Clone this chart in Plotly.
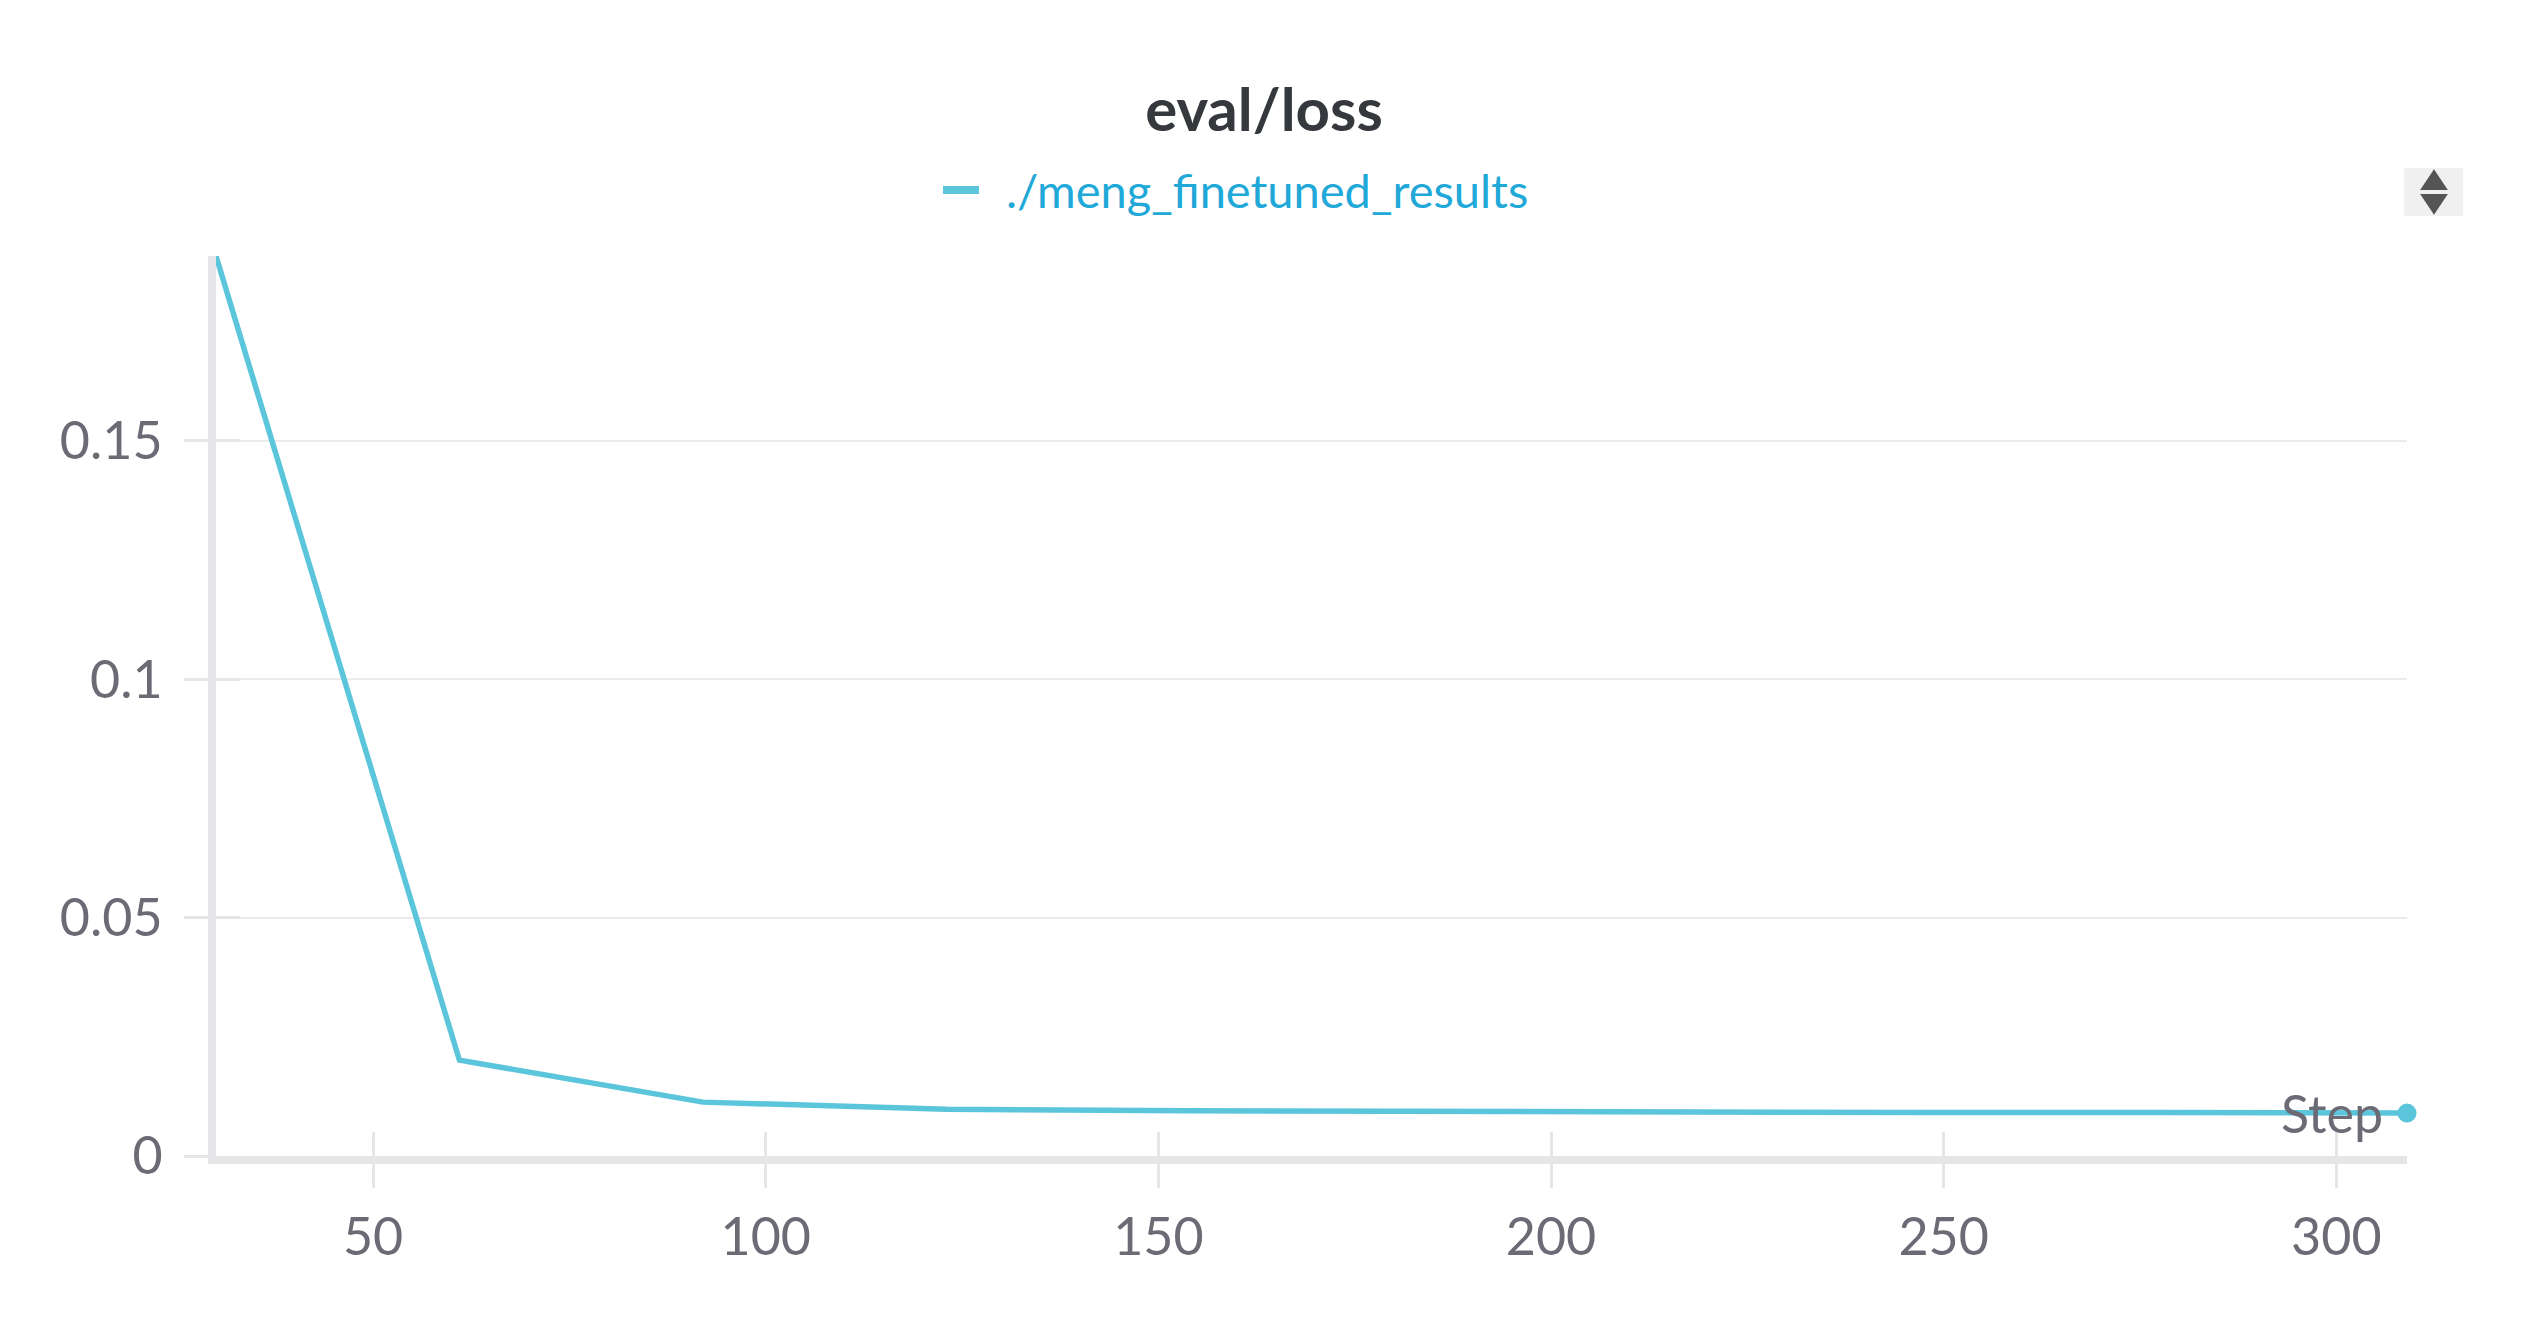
import plotly.graph_objects as go

steps = [30, 61, 92, 123, 154, 185, 216, 247, 278, 309]
loss = [0.1888, 0.0201, 0.0113, 0.0098, 0.0095, 0.0093, 0.0092, 0.0091, 0.0091, 0.0090]
series_name = "./meng_finetuned_results"
chart_title = "eval/loss"
x_title = "Step"
y_tickvals = [0, 0.05, 0.1, 0.15]
y_ticktext = ["0", "0.05", "0.1", "0.15"]
x_tickvals = [50, 100, 150, 200, 250, 300]

W, H = 2528, 1328
ML, MR, MT, MB = 216, 121, 256, 172
PW, PH = W - ML - MR, H - MT - MB

LINE = "#5bc5db"
AXIS = "#e6e6e9"
GRID = "#ebebeb"
TICKTXT = "#6b6b76"
FONT = "Lato, 'Open Sans', sans-serif"


def px(x):
    return (x - ML) / PW


def py(y):
    return (H - MB - y) / PH


fig = go.Figure()
fig.add_trace(go.Scatter(
    x=steps, y=loss, mode="lines", name=series_name,
    line=dict(color=LINE, width=5.5), showlegend=False,
))
fig.add_trace(go.Scatter(
    x=[steps[-1]], y=[loss[-1]], mode="markers",
    marker=dict(color=LINE, size=19), cliponaxis=False, showlegend=False,
    hoverinfo="skip",
))
# invisible trace to materialise the overlay axes (inner tick halves)
fig.add_trace(go.Scatter(
    x=[steps[0], steps[-1]], y=[0, max(loss)], xaxis="x2", yaxis="y2",
    mode="markers", marker=dict(opacity=0), showlegend=False, hoverinfo="skip",
))

fig.update_layout(
    width=W, height=H,
    margin=dict(l=ML, r=MR, t=MT, b=MB),
    paper_bgcolor="white", plot_bgcolor="white",
    font=dict(family=FONT, color=TICKTXT, size=52),
    title=dict(text=chart_title, x=0.5, xanchor="center", y=0.917, yanchor="middle",
               yref="container",
               font=dict(family=FONT, size=60, color="#35383c", weight=700)),
    showlegend=False,
    xaxis=dict(range=[steps[0], steps[-1]], tickvals=x_tickvals,
               showgrid=False, zeroline=False,
               showline=True, linecolor=AXIS, linewidth=8,
               ticks="outside", ticklen=24, tickwidth=3, tickcolor=AXIS,
               ticklabelstandoff=5,
               tickfont=dict(family=FONT, size=52, color=TICKTXT)),
    yaxis=dict(range=[0, max(loss)], tickvals=y_tickvals, ticktext=y_ticktext,
               showgrid=True, gridcolor=GRID, gridwidth=2, zeroline=False,
               showline=True, linecolor=AXIS, linewidth=8,
               ticks="outside", ticklen=24, tickwidth=3, tickcolor=AXIS,
               ticklabelstandoff=11,
               tickfont=dict(family=FONT, size=52, color=TICKTXT)),
    xaxis2=dict(overlaying="x", matches="x", tickvals=x_tickvals, showticklabels=False,
                showgrid=False, zeroline=False, showline=False,
                ticks="inside", ticklen=24, tickwidth=3, tickcolor=AXIS),
    yaxis2=dict(overlaying="y", matches="y", tickvals=y_tickvals, showticklabels=False,
                showgrid=False, zeroline=False, showline=False,
                ticks="inside", ticklen=24, tickwidth=3, tickcolor=AXIS),
)

# legend (series key)
fig.add_shape(type="line", xref="paper", yref="paper",
              x0=px(943), x1=px(979), y0=py(190), y1=py(190),
              line=dict(color=LINE, width=8))
fig.add_annotation(text=series_name, xref="paper", yref="paper",
                   x=px(1004), y=py(190), xanchor="left", yanchor="middle",
                   showarrow=False, font=dict(family=FONT, size=47, color="#20a8d8"))

# x axis title placed at the end of the axis
fig.add_annotation(text=x_title, xref="paper", yref="paper", x=1, y=0,
                   xanchor="right", yanchor="bottom", xshift=-22, yshift=10,
                   showarrow=False, font=dict(family=FONT, size=52, color=TICKTXT))

# panel sort control in the top-right corner
fig.add_shape(type="rect", xref="paper", yref="paper",
              x0=px(2404), x1=px(2463), y0=py(216), y1=py(168),
              fillcolor="#f0f0f0", line=dict(width=0), layer="above")
fig.add_shape(type="path", xref="paper", yref="paper",
              path=f"M {px(2434)},{py(171)} L {px(2446)},{py(189)} L {px(2422)},{py(189)} Z",
              fillcolor="#555555", line=dict(color="#555555", width=2, ), layer="above")
fig.add_shape(type="path", xref="paper", yref="paper",
              path=f"M {px(2422)},{py(195)} L {px(2446)},{py(195)} L {px(2434)},{py(213)} Z",
              fillcolor="#555555", line=dict(color="#555555", width=2), layer="above")

fig.write_html("out.html")
